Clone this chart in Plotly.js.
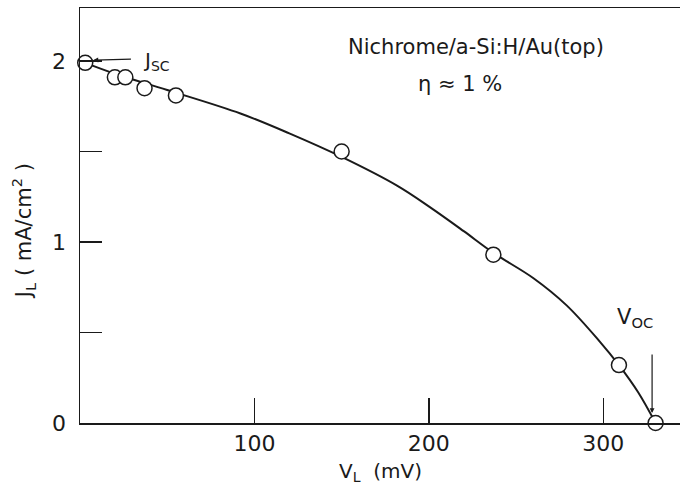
<!DOCTYPE html>
<html>
<head>
<meta charset="utf-8">
<script src="https://cdn.plot.ly/plotly-3.0.1.min.js"></script>
<style>html,body{margin:0;padding:0;background:#fff;}#chart{width:680px;height:492px;}</style>
</head>
<body>
<div id="chart"></div>
<script>
// Measured points (V_L in mV, J_L in mA/cm^2)
const dataV = [3, 20, 26, 37, 55, 150, 237, 309, 330];
const dataJ = [1.99, 1.91, 1.91, 1.85, 1.81, 1.50, 0.93, 0.32, 0.0];

// Hand-drawn fitted curve
const curveV = [3, 20, 50, 92, 120, 150, 182, 201, 220, 237, 260, 279, 298, 309, 320, 330];
const curveJ = [1.99, 1.93, 1.84, 1.71, 1.60, 1.47, 1.31, 1.19, 1.06, 0.94, 0.80, 0.65, 0.45, 0.32, 0.17, 0.0];

const xTickVals = [100, 200, 300];
const xTickText = ['100', '200', '300'];
const yTickVals = [0, 0.5, 1, 1.5, 2];
const yTickText = ['0', '', '1', '', '2'];

const FONT = 'DejaVu Sans, Liberation Sans, Arial, sans-serif';
const INK = '#1a1a1a';

const traces = [
  {
    x: curveV, y: curveJ, type: 'scatter', mode: 'lines',
    line: {color: INK, width: 2, shape: 'spline', smoothing: 1},
    hoverinfo: 'skip', showlegend: false
  },
  {
    x: dataV, y: dataJ, type: 'scatter', mode: 'markers',
    marker: {symbol: 'circle', size: 15, color: '#ffffff', line: {color: INK, width: 1.5}},
    showlegend: false, cliponaxis: false
  }
];

const layout = {
  width: 680, height: 492,
  margin: {l: 79.5, r: 0, t: 8, b: 69, pad: 0},
  paper_bgcolor: '#ffffff', plot_bgcolor: '#ffffff',
  showlegend: false,
  font: {family: FONT, color: INK, size: 20},
  xaxis: {
    range: [0, 344], showgrid: false, zeroline: false,
    showline: true, linecolor: INK, linewidth: 1.5, mirror: true,
    ticks: 'inside', ticklen: 25, tickwidth: 1.5, tickcolor: INK,
    tickmode: 'array', tickvals: xTickVals, ticktext: xTickText,
    tickfont: {family: FONT, size: 22, color: INK}
  },
  yaxis: {
    range: [0, 2.293], showgrid: false, zeroline: false,
    showline: true, linecolor: INK, linewidth: 1.5,
    ticks: 'inside', ticklen: 22, tickwidth: 1.5, tickcolor: INK,
    tickmode: 'array', tickvals: yTickVals, ticktext: yTickText,
    tickfont: {family: FONT, size: 22, color: INK},
    ticklabelstandoff: 8
  },
  annotations: [
    {x: 7.7, y: 2.005, xref: 'x', yref: 'y', ax: 39, ay: -1, text: '',
     showarrow: true, arrowhead: 2, arrowsize: 0.8, arrowwidth: 1.2, arrowcolor: INK},
    {x: 44, y: 2.0, xref: 'x', yref: 'y', text: 'J<sub>SC</sub>', showarrow: false,
     font: {family: FONT, size: 20, color: INK}},
    {x: 227, y: 2.077, xref: 'x', yref: 'y', text: 'Nichrome/a-Si:H/Au(top)', showarrow: false,
     font: {family: FONT, size: 21, color: INK}},
    {x: 218, y: 1.873, xref: 'x', yref: 'y', text: 'η ≈ 1 %', showarrow: false,
     font: {family: FONT, size: 21, color: INK}},
    {x: 318, y: 0.58, xref: 'x', yref: 'y', text: 'V<sub>OC</sub>', showarrow: false,
     font: {family: FONT, size: 21, color: INK}},
    {x: 328, y: 0.055, xref: 'x', yref: 'y', ax: 0, ay: -60, text: '',
     showarrow: true, arrowhead: 2, arrowsize: 0.8, arrowwidth: 1.2, arrowcolor: INK},
    {x: 0.5, y: -0.118, xref: 'paper', yref: 'paper', xanchor: 'center', yanchor: 'middle',
     text: 'V<sub>L</sub>  (mV)', showarrow: false,
     font: {family: FONT, size: 20, color: INK}},
    {x: -0.0945, y: 0.463, xref: 'paper', yref: 'paper', xanchor: 'center', yanchor: 'middle',
     text: 'J<sub>L</sub> ( mA/cm<sup>2</sup> )', showarrow: false,
     textangle: -90, font: {family: FONT, size: 21, color: INK}}
  ]
};

Plotly.newPlot('chart', traces, layout, {displayModeBar: false, staticPlot: true});
</script>
</body>
</html>
